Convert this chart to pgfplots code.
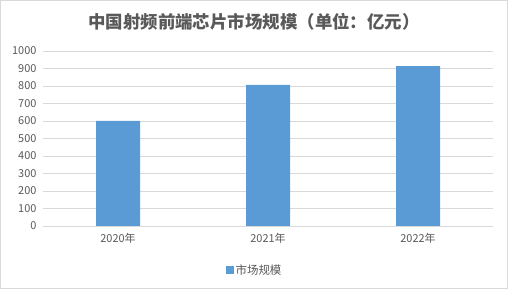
\documentclass[border=0pt]{standalone}
\usepackage{pgfplots}
\pgfplotsset{compat=1.18}
\usepackage{fontspec}
\setmainfont{Noto Sans CJK SC}
\definecolor{barblue}{HTML}{5B9BD5}
\definecolor{gridgray}{HTML}{D9D9D9}
\definecolor{txtgray}{HTML}{595959}
\begin{document}
\begin{tikzpicture}
\path[use as bounding box] (0bp,0bp) rectangle (508bp,289bp);
\draw[gridgray, line width=0.8bp] (0.5bp,0.5bp) rectangle (507.5bp,288.5bp);
\node[font=\fontsize{17.5}{20}\selectfont\bfseries, text=txtgray] at (254bp,267bp) {中国射频前端芯片市场规模（单位：亿元）};
\begin{axis}[
  at={(43bp,63bp)}, anchor=south west,
  scale only axis, width=450bp, height=175bp,
  xmin=-0.5, xmax=2.5, ymin=0, ymax=1000,
  xtick={0,1,2}, xticklabels={2020年,2021年,2022年},
  ytick={0,100,...,1000},
  axis x line*=bottom, axis y line*=left,
  x axis line style={gridgray, line width=0.8bp, -},
  y axis line style={draw=none},
  ymajorgrids, grid style={gridgray, line width=0.8bp},
  major tick length=0pt,
  tick label style={font=\fontsize{11}{13}\selectfont, text=txtgray},
  /pgf/number format/assume math mode=true,
  /pgf/number format/1000 sep={},
  xticklabel style={yshift=-4bp},
  yticklabel style={xshift=-3bp},
  legend style={at={(0.47,-0.251)}, anchor=center, draw=none, font=\fontsize{11.5}{13}\selectfont, text=txtgray},
  legend image code/.code={\fill[barblue] (0bp,-4bp) rectangle (8bp,4bp);},
]
\addplot[ybar, bar width=44bp, fill=barblue, draw=none] coordinates {(0,600) (1,806) (2,913)};
\addlegendentry{市场规模}
\end{axis}
\end{tikzpicture}
\end{document}
